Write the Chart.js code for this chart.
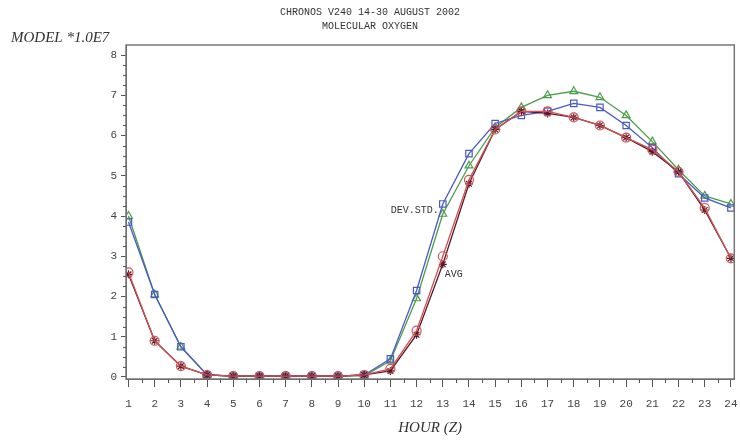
<!DOCTYPE html>
<html>
<head>
<meta charset="utf-8">
<script src="https://cdn.jsdelivr.net/npm/chart.js@4.4.1/dist/chart.umd.min.js"></script>
<style>
  html, body { margin: 0; padding: 0; background: #fff; }
  #wrap { width: 740px; height: 440px; position: relative; }
</style>
</head>
<body>
<div id="wrap"><canvas id="c" width="740" height="440"></canvas></div>
<script>
// ---- data ----
const hours = [1,2,3,4,5,6,7,8,9,10,11,12,13,14,15,16,17,18,19,20,21,22,23,24];
const yTicks = [0,1,2,3,4,5,6,7,8];
const greenTriangles = [4.0,2.05,0.75,0.05,0.02,0.02,0.02,0.02,0.02,0.03,0.4,1.95,4.05,5.25,6.2,6.7,7.0,7.1,6.95,6.5,5.85,5.15,4.5,4.3];
const blueSquares    = [3.85,2.05,0.75,0.05,0.02,0.02,0.02,0.02,0.02,0.05,0.45,2.15,4.3,5.55,6.3,6.5,6.6,6.8,6.7,6.25,5.7,5.05,4.45,4.2];
const redCircles     = [2.6,0.9,0.27,0.05,0.02,0.02,0.02,0.02,0.02,0.05,0.2,1.15,3.0,4.9,6.15,6.6,6.6,6.45,6.25,5.95,5.65,5.1,4.2,2.95];
const darkStars      = [2.55,0.9,0.27,0.05,0.02,0.02,0.02,0.02,0.02,0.05,0.15,1.05,2.8,4.8,6.15,6.6,6.55,6.45,6.25,5.95,5.6,5.1,4.15,2.95];
const titleLines = ["CHRONOS V240 14-30 AUGUST 2002", "MOLECULAR OXYGEN"];
const yTitle = "MODEL *1.0E7";
const xTitle = "HOUR (Z)";
const notes = [
  { text: "DEV.STD.", hour: 13, value: 4.3, align: "right" },
  { text: "AVG", hour: 13, value: 2.8, align: "left" }
];

function pts(arr) { return hours.map((h, i) => ({ x: h, y: arr[i] })); }

const mono = "'Liberation Mono', 'DejaVu Sans Mono', monospace";
const serif = "'Liberation Serif', 'DejaVu Serif', serif";

const decor = {
  id: 'decor',
  beforeDraw(chart) {
    const ctx = chart.ctx;
    ctx.save();
    ctx.fillStyle = '#fff';
    ctx.fillRect(0, 0, chart.width, chart.height);
    ctx.restore();
  },
  afterDraw(chart) {
    const ctx = chart.ctx;
    const a = chart.chartArea;
    const xs = chart.scales.x, ys = chart.scales.y;
    ctx.save();
    // frame
    ctx.strokeStyle = '#777';
    ctx.lineWidth = 1.5;
    ctx.strokeRect(a.left, a.top, a.right - a.left, a.bottom - a.top);
    // minor ticks
    ctx.strokeStyle = '#555';
    ctx.lineWidth = 1;
    ctx.beginPath();
    for (let i = 0; i < hours.length - 1; i++) {
      const px = Math.round(xs.getPixelForValue((hours[i] + hours[i + 1]) / 2)) + 0.5;
      ctx.moveTo(px, a.bottom); ctx.lineTo(px, a.bottom + 4);
    }
    for (let i = 0; i < yTicks.length - 1; i++) {
      for (const f of [0.25, 0.5, 0.75]) {
        const py = Math.round(ys.getPixelForValue(yTicks[i] + f)) + 0.5;
        ctx.moveTo(a.left, py); ctx.lineTo(a.left - 3, py);
      }
    }
    ctx.stroke();
    // titles
    ctx.fillStyle = '#333';
    ctx.font = '10px ' + mono;
    ctx.textAlign = 'center';
    ctx.textBaseline = 'middle';
    ctx.fillText(titleLines[0], 370, 12);
    ctx.fillText(titleLines[1], 370, 26);
    // axis titles
    ctx.font = 'italic 15px ' + serif;
    ctx.textAlign = 'left';
    ctx.fillText(yTitle, 11, 38);
    ctx.textAlign = 'center';
    ctx.fillText(xTitle, (a.left + a.right) / 2, 428);
    // annotations
    ctx.font = '10px ' + mono;
    for (const n of notes) {
      const px = xs.getPixelForValue(n.hour);
      const py = ys.getPixelForValue(n.value);
      if (n.align === 'right') {
        ctx.textAlign = 'right';
        ctx.fillText(n.text, px - 4, py + 6);
      } else {
        ctx.textAlign = 'left';
        ctx.fillText(n.text, px + 2, py + 10);
      }
    }
    ctx.restore();
  }
};

const ds = (label, arr, color, style, radius, z) => ({
  label, data: pts(arr), borderColor: color, backgroundColor: 'rgba(255,255,255,0)',
  pointStyle: style, pointRadius: radius, pointBorderColor: color, pointBackgroundColor: 'rgba(255,255,255,0)',
  pointBorderWidth: 1.2, borderWidth: 1.3, tension: 0, order: z
});

new Chart(document.getElementById('c'), {
  type: 'line',
  data: {
    datasets: [
      ds('triangles', greenTriangles, '#4a9e4a', 'triangle', 4.5, 4),
      ds('squares', blueSquares, '#4a58cc', 'rect', 4.5, 3),
      ds('stars', darkStars, '#5a1828', 'star', 4, 2),
      ds('circles', redCircles, '#d05252', 'circle', 4.5, 1)
    ]
  },
  options: {
    responsive: false,
    animation: false,
    layout: { padding: { top: 45, right: 4, left: 0, bottom: 0 } },
    plugins: { legend: { display: false }, tooltip: { enabled: false }, title: { display: false } },
    scales: {
      x: {
        type: 'linear', min: 0.905, max: 24.13,
        afterBuildTicks: s => { s.ticks = hours.map(v => ({ value: v })); },
        afterFit: s => { s.height = 61; s.paddingLeft = 0; s.paddingRight = 0; },
        grid: { drawOnChartArea: false, drawTicks: true, tickLength: 8, color: '#555' },
        border: { display: true, color: '#555', width: 1 },
        ticks: { color: '#444', font: { family: mono, size: 11 }, padding: 10, maxRotation: 0, autoSkip: false }
      },
      y: {
        type: 'linear', min: -0.05, max: 8.25,
        afterBuildTicks: s => { s.ticks = yTicks.map(v => ({ value: v })); },
        afterFit: s => { s.width = 126; s.paddingTop = 0; s.paddingBottom = 0; },
        grid: { drawOnChartArea: false, drawTicks: true, tickLength: 5, color: '#555' },
        border: { display: true, color: '#555', width: 1 },
        ticks: { color: '#444', font: { family: mono, size: 11 }, padding: 4 }
      }
    }
  },
  plugins: [decor]
});
</script>
</body>
</html>
